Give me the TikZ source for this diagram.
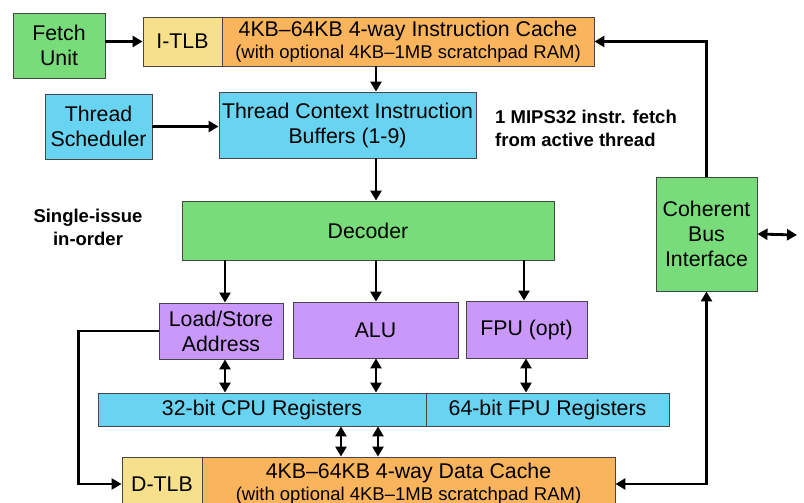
\documentclass[tikz,border=0pt]{standalone}
\usepackage{fontspec}
\setmainfont{Liberation Sans}
\usetikzlibrary{arrows.meta,calc}

\definecolor{unitgreen}{RGB}{120,220,122}
\definecolor{tlbyellow}{RGB}{246,224,140}
\definecolor{cacheorange}{RGB}{250,180,92}
\definecolor{regcyan}{RGB}{104,212,242}
\definecolor{exepurple}{RGB}{202,152,250}
\definecolor{edgegray}{RGB}{70,70,70}

% smaller type for the second line of the cache boxes
\newcommand\subline{\fontsize{18.5}{21}\selectfont}

\tikzset{
  box/.style={draw=edgegray, line width=0.9pt, inner sep=0pt, align=center,
    font=\fontsize{21.3}{25}\selectfont},
  green box/.style={box, fill=unitgreen},
  yellow box/.style={box, fill=tlbyellow},
  orange box/.style={box, fill=cacheorange},
  cyan box/.style={box, fill=regcyan},
  purple box/.style={box, fill=exepurple},
  note/.style={font=\fontsize{18.5}{23}\selectfont\bfseries, inner sep=0pt},
  tip/.tip={Triangle[length=10pt,width=11pt]},
  arr/.style={line width=2.8pt, -tip},
  dbl/.style={line width=2.8pt, tip-tip}
}

\begin{document}
\begin{tikzpicture}[x=1pt,y=-1pt]
  \useasboundingbox (0,0) rectangle (804,503);
  \clip (0,0) rectangle (804,503);

  % instruction fetch stage
  \node[green box, minimum width=92, minimum height=65] (fetch) at (59,45.5) {Fetch\\Unit};
  \node[yellow box, minimum width=79, minimum height=49] (itlb) at (182.5,41.5) {I-TLB};
  \node[orange box, minimum width=372, minimum height=49] (icache) at (408,41.5)
    {4KB–64KB 4-way Instruction Cache\\[-3pt]{\subline (with optional 4KB–1MB scratchpad RAM)}};
  \node[cyan box, minimum width=107, minimum height=65] (sched) at (98.5,126.5) {Thread\\Scheduler};
  \node[cyan box, minimum width=257, minimum height=66] (tcb) at (347.5,125)
    {Thread Context Instruction\\Buffers (1-9)};
  \node[note, align=left, anchor=west] (fetchnote) at (495,128.5)
    {1 MIPS32 instr. fetch\\from active thread};

  % decode and execute
  \node[green box, minimum width=372, minimum height=59] (decoder) at (368,230.5) {Decoder};
  \node[note, align=center] (issue) at (88,227.5) {Single-issue\\in-order};
  \node[green box, minimum width=101, minimum height=114] (cbi) at (706.5,234)
    {Coherent\\Bus\\Interface};
  \node[purple box, minimum width=124, minimum height=56] (ls) at (221,331) {Load/Store\\Address};
  \node[purple box, minimum width=165, minimum height=56] (alu) at (375.5,330) {ALU};
  \node[purple box, minimum width=121, minimum height=57] (fpu) at (526.5,329.5) {FPU (opt)};

  % register files
  \node[cyan box, minimum width=328, minimum height=33] (cpureg) at (262,409.5) {32-bit CPU Registers};
  \node[cyan box, minimum width=243, minimum height=33] (fpureg) at (547.5,409.5) {64-bit FPU Registers};

  % data memory stage
  \node[yellow box, minimum width=80, minimum height=54] (dtlb) at (162,484) {D-TLB};
  \node[orange box, minimum width=413, minimum height=54] (dcache) at (408.5,484)
    {4KB–64KB 4-way Data Cache\\[-3pt]{\subline (with optional 4KB–1MB scratchpad RAM)}};

  % x positions of the vertical connectors
  \coordinate (xls) at (225,0);
  \coordinate (xmid) at (376,0);
  \coordinate (xfpu) at (524,0);
  \coordinate (xfpu2) at (526,0);
  \coordinate (xd1) at (341,0);
  \coordinate (xd2) at (378,0);
  \coordinate (bus) at (797,235);

  % connectors
  \draw[arr] (fetch.east |- itlb.west) -- (itlb.west);
  \draw[arr] (icache.south -| xmid) -- (tcb.north -| xmid);
  \draw[arr] (sched.east) -- (sched.east -| tcb.west);
  \draw[arr] (tcb.south -| xmid) -- (decoder.north -| xmid);
  \draw[arr] (decoder.south -| xls) -- (ls.north -| xls);
  \draw[arr] (decoder.south -| xmid) -- (alu.north -| xmid);
  \draw[arr] (decoder.south -| xfpu) -- (fpu.north -| xfpu);
  \draw[dbl] (ls.south -| xls) -- (cpureg.north -| xls);
  \draw[dbl] (alu.south -| xmid) -- (cpureg.north -| xmid);
  \draw[dbl] (fpu.south -| xfpu2) -- (fpureg.north -| xfpu2);
  \draw[dbl] (cpureg.south -| xd1) -- (dcache.north -| xd1);
  \draw[dbl] (cpureg.south -| xd2) -- (dcache.north -| xd2);
  \draw[arr] (ls.west) -- ++(-80,0) |- (dtlb.west);
  \draw[arr] (cbi.north) |- (icache.east);
  \draw[dbl] (dcache.east) -| (cbi.south);
  \draw[dbl] (cbi.east) -- (bus);
\end{tikzpicture}
\end{document}
